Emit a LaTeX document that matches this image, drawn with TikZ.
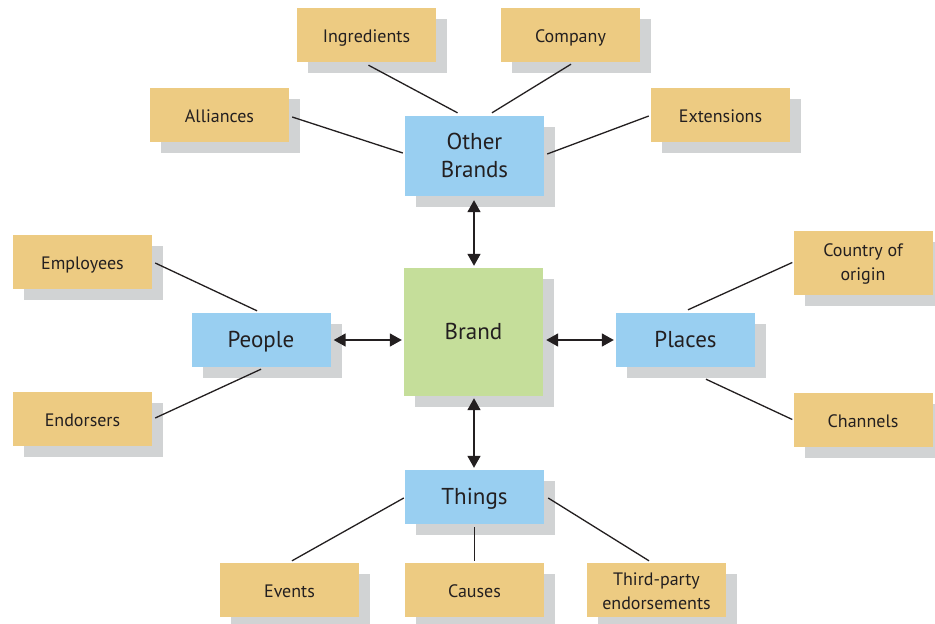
\documentclass[tikz,border=0pt]{standalone}
\usepackage{fontspec}
\setmainfont{PT Sans}
\usetikzlibrary{shadows,calc,arrows.meta}
\definecolor{tanbox}{HTML}{EDCB82}
\definecolor{bluebox}{HTML}{99CFF1}
\definecolor{greenbox}{HTML}{C5DE9A}
\definecolor{shadowgray}{HTML}{D1D3D4}
\definecolor{inkc}{HTML}{231F20}
\newcommand{\twoline}[3][-2.5pt]{\raisebox{#1}[\height][\depth]{\begin{tabular}{@{}c@{}}#2\\#3\end{tabular}}}
\begin{document}
\begin{tikzpicture}[x=1pt,y=-1pt,
  boxbase/.style={rectangle, inner sep=0pt, align=center, text=inkc,
    drop shadow={shadow xshift=11pt, shadow yshift=-11pt, fill=shadowgray, opacity=1}},
  leaf/.style={boxbase, fill=tanbox, minimum width=139pt, minimum height=54pt,
    font=\fontsize{18}{24}\selectfont},
  oneline/.style={text height=15pt, text depth=0pt},
  mid/.style={boxbase, fill=bluebox, minimum width=139pt, minimum height=54pt,
    font=\fontsize{23}{28}\selectfont},
  core/.style={boxbase, fill=greenbox, minimum width=139pt, minimum height=128pt,
    font=\fontsize{23}{28}\selectfont},
  link/.style={draw=inkc, line width=1.3pt},
  dbl/.style={draw=inkc, line width=1.6pt, {Triangle[length=12pt,width=13pt]}-{Triangle[length=12pt,width=13pt]}}
]
\useasboundingbox (0,0) rectangle (935,624);
\fill[white] (0,0) rectangle (935,624);

\node[leaf, oneline] (ingredients) at (366.5,35) {Ingredients};
\node[leaf, oneline] (company) at (570.5,35) {Company};
\node[leaf, oneline] (alliances) at (219.5,115) {Alliances};
\node[leaf, oneline] (extensions) at (720.5,115) {Extensions};
\node[mid, minimum height=80pt] (other) at (474.5,156) {\twoline[-2pt]{Other}{Brands}};
\node[core, oneline] (brand) at (473.5,332) {Brand};
\node[leaf, oneline] (employees) at (82.5,262) {Employees};
\node[leaf, oneline] (endorsers) at (82.5,419) {Endorsers};
\node[mid, oneline] (people) at (261,340) {People};
\node[mid, oneline] (places) at (685.5,340) {Places};
\node[leaf, minimum height=64pt] (country) at (863,262.5) {\twoline[-1pt]{Country of}{origin}};
\node[leaf, oneline] (channels) at (863,419.5) {Channels};
\node[mid, oneline] (things) at (474.5,497) {Things};
\node[leaf, oneline] (events) at (289.5,590) {Events};
\node[leaf, oneline] (causes) at (474.5,590) {Causes};
\node[leaf] (third) at (656.5,590) {\twoline[-3pt]{Third-party}{endorsements}};

% connectors
\draw[link] ($(ingredients.south)+(2,3)$) -- ($(other.north)+(-17,-3)$);
\draw[link] ($(company.south)+(0.5,2)$) -- ($(other.north)+(17.5,-3)$);
\draw[link] ($(alliances.east)+(3,2)$) -- ($(other.west)+(-2,-3)$);
\draw[link] ($(other.east)+(3,-2)$) -- ($(extensions.west)+(-2,1)$);
\draw[link] ($(employees.east)+(3,1)$) -- ($(people.north)+(-4,-2)$);
\draw[link] ($(endorsers.east)+(3,-1)$) -- ($(people.south)+(0,2)$);
\draw[link] ($(places.north)+(2.5,-3)$) -- ($(country.west)+(-1,0)$);
\draw[link] ($(places.south)+(20.5,12)$) -- ($(channels.west)+(-1,0)$);
\draw[link] ($(things.west)+(-1,1)$) -- ($(events.north)+(2.5,-2)$);
\draw[link] ($(things.south)+(0,3)$) -- ($(causes.north)+(0,-2)$);
\draw[link] ($(things.east)+(4,1)$) -- ($(third.north)+(-7.5,-2)$);

% arrows
\draw[dbl] ($(other.south)+(-0.5,4)$) -- ($(brand.north)+(0.5,-2)$);
\draw[dbl] ($(brand.south)+(0.5,2)$) -- ($(things.north)+(-0.5,-2)$);
\draw[dbl] ($(people.east)+(3,0)$) -- ($(people.east -| brand.west)+(-2,0)$);
\draw[dbl] ($(places.west -| brand.east)+(3,0)$) -- ($(places.west)+(-2,0)$);
\end{tikzpicture}
\end{document}
